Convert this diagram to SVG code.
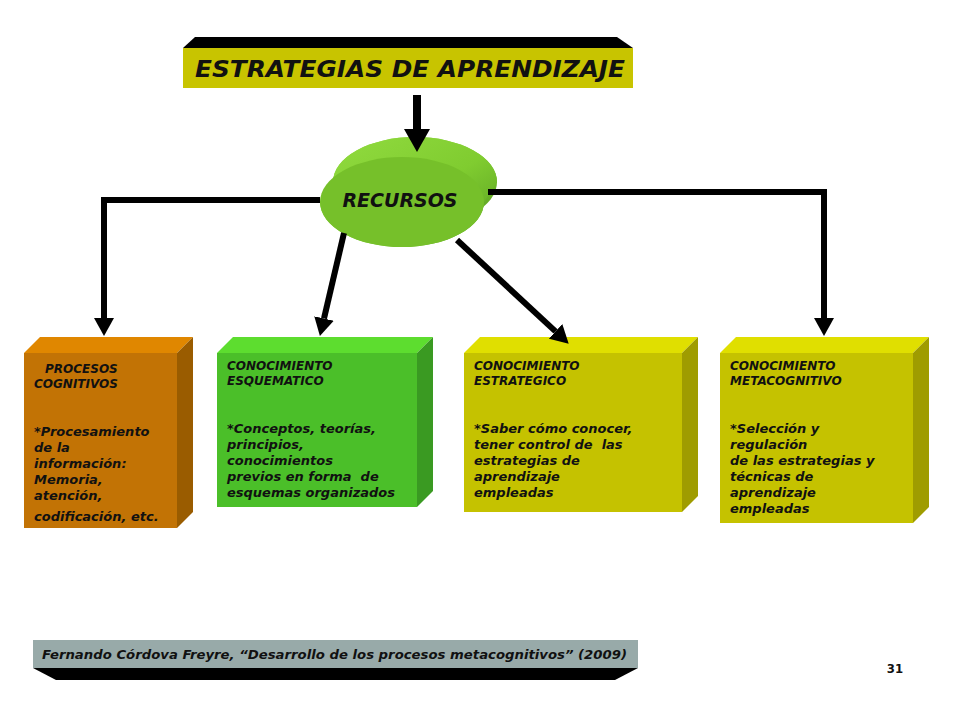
<svg xmlns="http://www.w3.org/2000/svg" width="960" height="720" viewBox="0 0 960 720">
<defs>
<style>
.t{font-family:"DejaVu Sans","Liberation Sans",sans-serif;font-weight:bold;font-style:italic;fill:#111}
.h{font-size:12px}
.b{font-size:13px}
.con{fill:none;stroke:#000;stroke-width:6}
</style>
<linearGradient id="band" x1="0" y1="0" x2="1" y2="1">
<stop offset="0" stop-color="#92dc40"/>
<stop offset="0.55" stop-color="#80cc30"/>
<stop offset="1" stop-color="#559a20"/>
</linearGradient>
<marker id="ah" markerUnits="userSpaceOnUse" markerWidth="20" markerHeight="20" refX="0" refY="10" orient="auto" viewBox="0 0 20 20">
<path d="M0,0 L18,10 L0,20 z" fill="#000"/>
</marker>
<marker id="ah2" markerUnits="userSpaceOnUse" markerWidth="24" markerHeight="26" refX="0" refY="13" orient="auto" viewBox="0 0 24 26">
<path d="M0,0 L23,13 L0,26 z" fill="#000"/>
</marker>
</defs>
<rect width="960" height="720" fill="#fff"/>

<g id="title">
<polygon points="195,37 617,37 633,48 183,48" fill="#000"/>
<rect x="183" y="48" width="450" height="40" fill="#c8c400"/>
<text class="t" x="195" y="77" font-size="23" textLength="430" lengthAdjust="spacingAndGlyphs">ESTRATEGIAS DE APRENDIZAJE</text>
</g>

<g id="recursos">
<ellipse cx="415" cy="182" rx="82" ry="45" fill="url(#band)"/>
<path d="M333,182 L320,202 A82,45 0 0 0 484,202 L497,182 A82,45 0 0 0 333,182 z" fill="url(#band)"/>
<ellipse cx="402" cy="202" rx="82" ry="45" fill="#76c02a"/>
<text class="t" x="400" y="207" font-size="19" text-anchor="middle">RECURSOS</text>
</g>

<g id="procesos">
<rect x="24" y="353" width="153" height="175" fill="#c27305"/>
<polygon points="24,353 40,337 193,337 177,353" fill="#e08700"/>
<polygon points="177,353 193,337 193,512 177,528" fill="#9a5c00"/>
<text class="t h" x="45" y="373">PROCESOS</text>
<text class="t h" x="34" y="388">COGNITIVOS</text>
<text class="t b" x="34" y="436">*Procesamiento</text>
<text class="t b" x="34" y="452">de la</text>
<text class="t b" x="34" y="468">información:</text>
<text class="t b" x="34" y="484">Memoria,</text>
<text class="t b" x="34" y="500">atención,</text>
<text class="t b" x="34" y="521">codificación, etc.</text>
</g>

<g id="esquematico">
<rect x="217" y="353" width="200" height="154" fill="#4bbf29"/>
<polygon points="217,353 233,337 433,337 417,353" fill="#5ddd2f"/>
<polygon points="417,353 433,337 433,491 417,507" fill="#3a9a22"/>
<text class="t h" x="227" y="370">CONOCIMIENTO</text>
<text class="t h" x="227" y="385">ESQUEMATICO</text>
<text class="t b" x="227" y="433">*Conceptos, teorías,</text>
<text class="t b" x="227" y="449">principios,</text>
<text class="t b" x="227" y="465">conocimientos</text>
<text class="t b" x="227" y="481" xml:space="preserve">previos en forma  de</text>
<text class="t b" x="227" y="497">esquemas organizados</text>
</g>

<g id="estrategico">
<rect x="464" y="353" width="218" height="159" fill="#c5c200"/>
<polygon points="464,353 480,337 698,337 682,353" fill="#e0df00"/>
<polygon points="682,353 698,337 698,496 682,512" fill="#9f9c00"/>
<text class="t h" x="474" y="370">CONOCIMIENTO</text>
<text class="t h" x="474" y="385">ESTRATEGICO</text>
<text class="t b" x="474" y="433">*Saber cómo conocer,</text>
<text class="t b" x="474" y="449" xml:space="preserve">tener control de  las</text>
<text class="t b" x="474" y="465">estrategias de</text>
<text class="t b" x="474" y="481">aprendizaje</text>
<text class="t b" x="474" y="497">empleadas</text>
</g>

<g id="metacognitivo">
<rect x="720" y="353" width="193" height="170" fill="#c5c200"/>
<polygon points="720,353 736,337 929,337 913,353" fill="#e0df00"/>
<polygon points="913,353 929,337 929,507 913,523" fill="#9f9c00"/>
<text class="t h" x="730" y="370">CONOCIMIENTO</text>
<text class="t h" x="730" y="385">METACOGNITIVO</text>
<text class="t b" x="730" y="433">*Selección y</text>
<text class="t b" x="730" y="449">regulación</text>
<text class="t b" x="730" y="465">de las estrategias y</text>
<text class="t b" x="730" y="481">técnicas de</text>
<text class="t b" x="730" y="497">aprendizaje</text>
<text class="t b" x="730" y="513">empleadas</text>
</g>

<g id="connectors">
<path d="M417,95 V129" fill="none" stroke="#000" stroke-width="8" marker-end="url(#ah2)"/>
<path class="con" d="M320,200 H104 V318" marker-end="url(#ah)"/>
<path class="con" d="M344,233 L324,318.5" marker-end="url(#ah)"/>
<path class="con" d="M457,240 L555.5,331.4" marker-end="url(#ah)"/>
<path class="con" d="M488,192 H824 V318" marker-end="url(#ah)"/>
</g>

<g id="footer">
<rect x="33" y="640" width="605" height="28" fill="#98aaa9"/>
<polygon points="33,668 638,668 615,680 56,680" fill="#000"/>
<text x="42" y="659" font-family="'DejaVu Sans Condensed','DejaVu Sans',sans-serif" font-stretch="condensed" font-style="italic" font-weight="bold" font-size="13" fill="#111" textLength="585" lengthAdjust="spacingAndGlyphs">Fernando Córdova Freyre, “Desarrollo de los procesos metacognitivos” (2009)</text>
</g>

<text x="895" y="673" font-family="'DejaVu Sans Condensed','DejaVu Sans',sans-serif" font-weight="bold" font-size="13" fill="#111" text-anchor="middle">31</text>
</svg>
